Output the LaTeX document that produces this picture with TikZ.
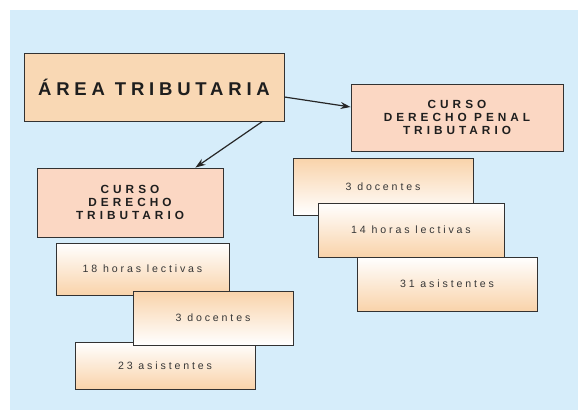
\documentclass[tikz,border=0pt]{standalone}
\usepackage{fontspec}
\setmainfont{Liberation Sans}
\newfontfamily\titulofont[LetterSpace=26]{Liberation Sans}
\newfontfamily\cursofont[LetterSpace=34]{Liberation Sans}
\newfontfamily\datofont[LetterSpace=27]{Liberation Sans}
\usetikzlibrary{arrows.meta}
\definecolor{fondo}{RGB}{214,237,250}
\definecolor{areacol}{RGB}{249,216,180}
\definecolor{cursocol}{RGB}{251,215,195}
\definecolor{naranja}{RGB}{249,211,170}
\definecolor{borde}{RGB}{50,50,50}
\definecolor{texto}{RGB}{30,30,30}
\definecolor{textodato}{RGB}{55,55,55}
\begin{document}
\begin{tikzpicture}[x=1pt,y=-1pt,
  caja/.style={draw=borde,line width=0.9pt,inner sep=0pt,align=center,text=texto},
  titulo/.style={caja,fill=areacol,font=\titulofont\bfseries\fontsize{18.5}{22}\selectfont},
  curso/.style={caja,fill=cursocol,font=\cursofont\bfseries\fontsize{11.8}{13.3}\selectfont},
  datosup/.style={caja,top color=naranja,bottom color=white,text=textodato,font=\datofont\fontsize{10.6}{12}\selectfont},
  datoinf/.style={caja,top color=white,bottom color=naranja,text=textodato,font=\datofont\fontsize{10.6}{12}\selectfont},
  flecha/.style={-{Stealth[length=10pt,width=7pt]},line width=1.2pt,draw=black!85}]
  % 背景
  \useasboundingbox (0,0) rectangle (578,410);
  \fill[fondo] (10,10) rectangle (578,410);
  % 主框
  \node[titulo,minimum width=260pt,minimum height=68pt] (area) at (154,87) {ÁREA TRIBUTARIA};
  % 课程
  \node[curso,minimum width=186pt,minimum height=69pt] (cursoA) at (130,202.5)
    {CURSO\\DERECHO\\TRIBUTARIO};
  \node[curso,minimum width=212pt,minimum height=67pt] (cursoB) at (457,117.5)
    {CURSO\\DERECHO PENAL\\TRIBUTARIO};
  % 箭头
  \draw[flecha] ([xshift=-22pt]area.south east) -- ([xshift=-28pt]cursoA.north east);
  \draw[flecha] ([yshift=-10pt]area.east) -- ([yshift=10.5pt]cursoB.west);
  % 左侧数据
  \node[datoinf,minimum width=173pt,minimum height=52pt] (horasA) at (142.5,269) {18 horas lectivas};
  \node[datoinf,minimum width=180pt,minimum height=47pt] (asisA) at (165,365.5) {23 asistentes};
  \node[datosup,minimum width=160pt,minimum height=54pt] (docA) at (213,318) {3 docentes};
  % 右侧数据
  \node[datosup,minimum width=180pt,minimum height=57pt] (docB) at (383,186.5) {3 docentes};
  \node[datoinf,minimum width=186pt,minimum height=54pt] (horasB) at (411,230) {14 horas lectivas};
  \node[datoinf,minimum width=180pt,minimum height=54pt] (asisB) at (447,284) {31 asistentes};
\end{tikzpicture}
\end{document}
